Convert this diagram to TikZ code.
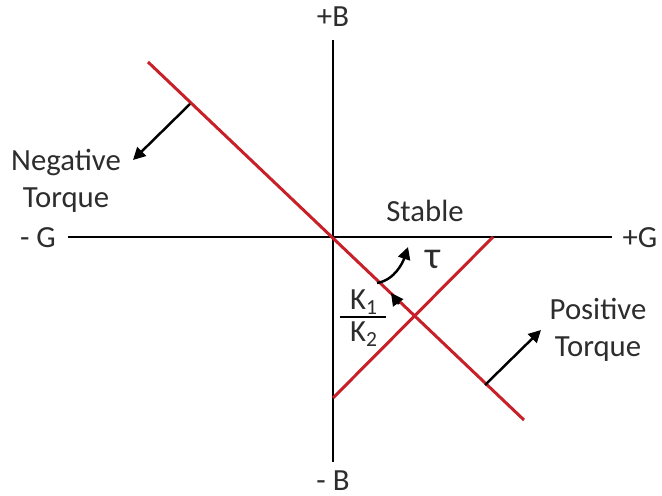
\documentclass[tikz,border=0pt]{standalone}
\usepackage{fontspec}
\setmainfont{Carlito}
\usetikzlibrary{arrows.meta}
\definecolor{torquered}{RGB}{200,32,40}
\definecolor{textgray}{RGB}{45,45,45}
\begin{document}
\begin{tikzpicture}[x=0.02cm,y=-0.02cm,
		axis/.style={line width=1.5pt},
		redline/.style={line width=1.7pt, torquered},
		pointer/.style={line width=1.4pt, -{Triangle[length=7pt,width=7pt]}},
		lbl/.style={font=\fontsize{17.5}{21}\selectfont, text=textgray, align=center, inner sep=1pt}]
		\useasboundingbox (0,0) rectangle (662,496);
		
		% Axes
		\coordinate (btop) at (333,40);
		\coordinate (bbot) at (333,462);
		\coordinate (gleft) at (68,237);
		\coordinate (gright) at (612,237);
		\draw[axis] (bbot) -- (btop);
		\draw[axis] (gleft) -- (gright);
		
		% Axis labels
		\node[lbl] (bplus) at (333,17) {+B};
		\node[lbl] (bminus) at (333,481) {- B};
		\node[lbl] (gminus) at (38,238) {- G};
		\node[lbl] (gplus) at (640,238) {+G};
		
		% Torque lines
		\coordinate (nstart) at (148,62);
		\coordinate (nend) at (524,420);
		\coordinate (pstart) at (493,237);
		\coordinate (pend) at (333,398);
		\draw[redline] (nstart) -- (nend);
		\draw[redline] (pstart) -- (pend);
		
		% Negative torque
		\coordinate (negfoot) at (190,104);
		\coordinate (negtip) at (133,160);
		\node[lbl] (negtorque) at (66,181) {Negative\\Torque};
		\draw[pointer] (negfoot) -- (negtip);
		
		% Positive torque
		\coordinate (posfoot) at (485,385);
		\coordinate (postip) at (541,330);
		\node[lbl] (postorque) at (598,330) {Positive\\Torque};
		\draw[pointer] (posfoot) -- (postip);
		
		% Stable region
		\node[lbl] (stable) at (425,211) {Stable};
		\node[lbl, font=\fontsize{22}{24}\selectfont] (tau) at (433,259) {τ};
		\coordinate (taufoot) at (377,283);
		\coordinate (tautip) at (408,247);
		\draw[pointer] (taufoot) .. controls (395,280) and (403,262) .. (tautip);
		
		% Slope ratio
		\node[lbl] (kone) at (364,302) {K\textsubscript{1}};
		\node[lbl] (ktwo) at (364,334) {K\textsubscript{2}};
		\draw[line width=1.3pt] (340,317) -- (386,317);
		\coordinate (kfoot) at (399,304);
		\coordinate (ktip) at (391,293);
		\draw[pointer] (kfoot) -- (ktip);
	\end{tikzpicture}
\end{document}
